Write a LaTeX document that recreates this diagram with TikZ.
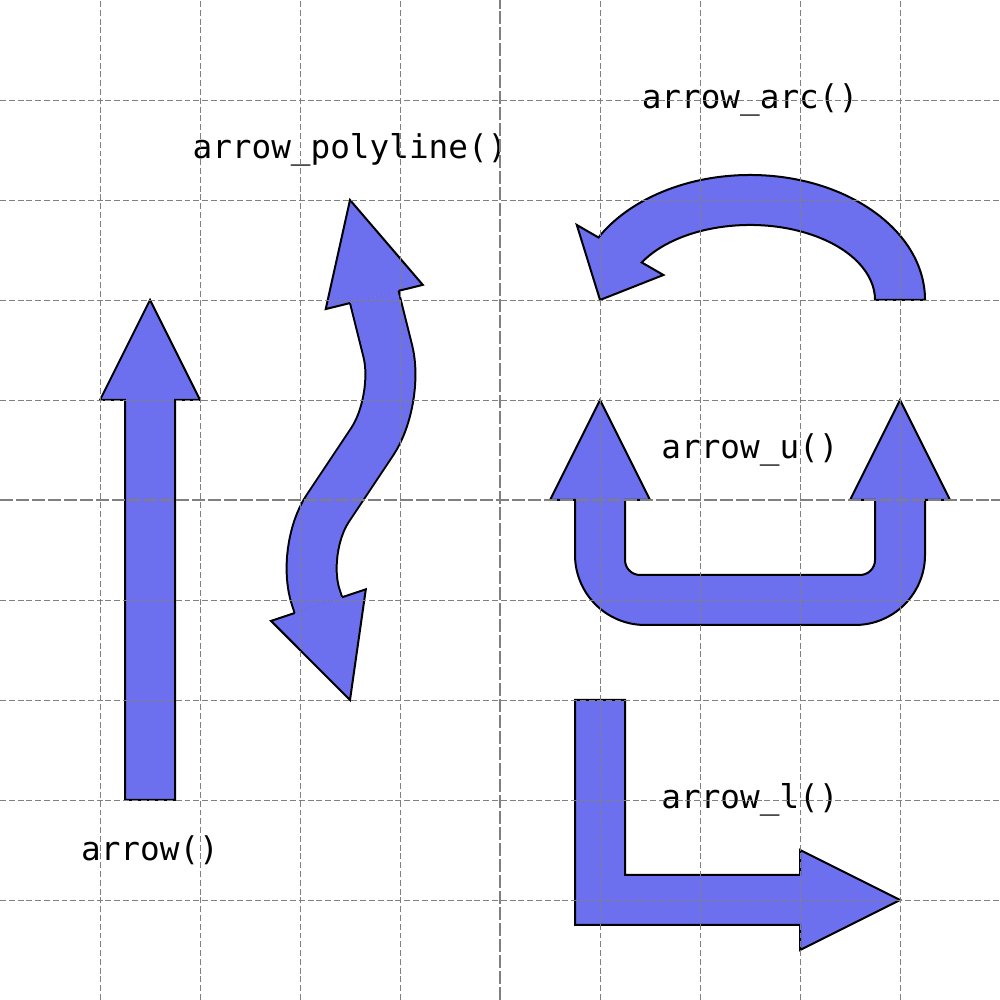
\documentclass[tikz,border=0pt]{standalone}
\usepackage{fontspec}
\setmonofont{DejaVu Sans Mono}
\definecolor{arrowfill}{RGB}{108,112,238}
\definecolor{gridgray}{RGB}{128,128,128}
\tikzset{
  arrowbody/.style={fill=arrowfill, draw=black, line width=0.02cm, line join=miter},
  headfill/.style={fill=arrowfill},
  headline/.style={draw=black, line width=0.02cm, line join=miter},
  shaftline/.style={draw=black, line width=0.02cm, double=arrowfill, double distance=0.48cm, line cap=butt, rounded corners=0.5cm},
  gridthin/.style={draw=gridgray, line width=0.26pt, dash pattern=on 1.7pt off 0.8pt},
  gridthick/.style={draw=gridgray, line width=0.65pt, dash pattern=on 3.7pt off 0.85pt},
  label/.style={font=\ttfamily\fontsize{9.3}{11}\selectfont, text=black, inner sep=0pt}
}
\begin{document}
\begin{tikzpicture}
\useasboundingbox (0,0) rectangle (10,10);
\fill[white] (0,0) rectangle (10,10);

% arrow()
\draw[arrowbody] (1.25,2) -- (1.75,2) -- (1.75,6) -- (2,6) -- (1.5,7) -- (1,6) -- (1.25,6) -- cycle;

% arrow_polyline()
\draw[shaftline] (3.7425,7.03) -- (4,6) -- (3,4.5) -- (3.184,3.949);
\fill[headfill] (3.985,7.091) -- (4.228,7.151) -- (3.5,8) -- (3.257,6.909) -- (3.5,6.969) -- cycle;
\draw[headline] (3.985,7.091) -- (4.228,7.151) -- (3.5,8) -- (3.257,6.909) -- (3.5,6.969);
\fill[headfill] (3.421,4.028) -- (3.658,4.107) -- (3.5,3) -- (2.710,3.791) -- (2.947,3.870) -- cycle;
\draw[headline] (3.421,4.028) -- (3.658,4.107) -- (3.5,3) -- (2.710,3.791) -- (2.947,3.870);

% arrow_arc()
\draw[arrowbody] (9.25,7) arc[start angle=0, end angle=150, x radius=1.75, y radius=1.25]
  -- (5.768,7.75) -- (6,7) -- (6.634,7.25) -- (6.4175,7.375)
  arc[start angle=150, end angle=0, x radius=1.25, y radius=0.75] -- cycle;

% arrow_u()
\draw[arrowbody] (6,6) -- (6.5,5) -- (6.25,5) -- (6.25,4.4)
  arc[start angle=180, end angle=270, radius=0.15] -- (8.6,4.25)
  arc[start angle=270, end angle=360, radius=0.15] -- (8.75,5) -- (8.5,5) -- (9,6) -- (9.5,5) -- (9.25,5)
  -- (9.25,4.45) arc[start angle=0, end angle=-90, radius=0.7] -- (6.45,3.75)
  arc[start angle=270, end angle=180, radius=0.7] -- (5.75,5) -- (5.5,5) -- cycle;

% arrow_l()
\draw[arrowbody] (5.75,3) -- (5.75,0.75) -- (8,0.75) -- (8,0.5) -- (9,1) -- (8,1.5) -- (8,1.25) -- (6.25,1.25) -- (6.25,3) -- cycle;

% labels
\node[label] (larrow) at (1.5,1.5) {arrow()};
\node[label] (lpoly) at (3.5,8.5) {arrow\_polyline()};
\node[label] (larc) at (7.5,9) {arrow\_arc()};
\node[label] (lu) at (7.5,5.5) {arrow\_u()};
\node[label] (ll) at (7.5,2) {arrow\_l()};

% grid
\foreach \i in {1,2,3,4,6,7,8,9} {
  \draw[gridthin] (\i,0) -- (\i,10);
  \draw[gridthin] (0,\i) -- (10,\i);
}
\draw[gridthick] (5,0) -- (5,10);
\draw[gridthick] (0,5) -- (10,5);
\end{tikzpicture}
\end{document}
